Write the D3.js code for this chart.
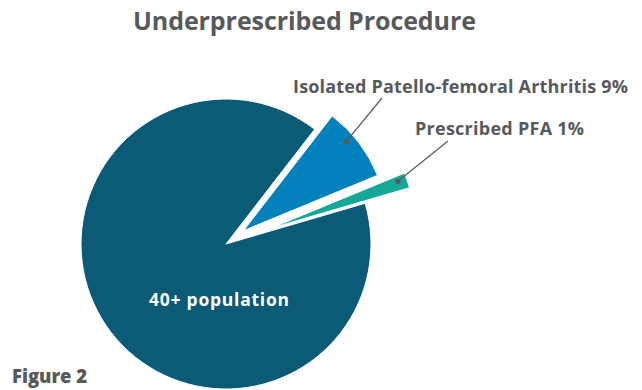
<!DOCTYPE html>
<html><head><meta charset="utf-8">
<script src="https://cdn.jsdelivr.net/npm/d3@7"></script>
<style>
html,body{margin:0;padding:0;background:#fff;}
svg{display:block;font-family:"Open Sans",Lato,sans-serif;}
</style></head>
<body>
<svg id="c" width="642" height="390"></svg>
<script>
// data
const categories = ["40+ population", "Isolated Patello-femoral Arthritis", "Prescribed PFA"];
const values = [90, 8.3, 1.7];
const labels = ["40+ population", "Isolated Patello-femoral Arthritis 9%", "Prescribed PFA 1%"];
const colors = ["#0b5a76", "#0281bd", "#15a898"];
const title = "Underprescribed Procedure";
const caption = "Figure 2";

const svg = d3.select("#c");
const cx = 226, cy = 244, R = 145;
const deg = Math.PI / 180;
const start = 73.7 * deg;
const explode = [0, 22, 47];
const dotFrac = [0.5, 0.38, 0.35];
const dotR = 136;
const textColor = "#58595b";

// fit text to a target left edge and width with letter-spacing
function fitText(sel, x0, width) {
  const node = sel.node();
  const n = node.getNumberOfChars();
  const w = node.getComputedTextLength();
  const ls = (width - w) / Math.max(1, n - 1);
  sel.attr("letter-spacing", ls.toFixed(2));
  sel.attr("x", x0).attr("text-anchor", "start");
}

const pie = d3.pie().sort(null).startAngle(start).endAngle(start + 2 * Math.PI);
const arcs = pie(values);
const arc = d3.arc().innerRadius(0).outerRadius(R);

const g = svg.append("g").attr("transform", `translate(${cx},${cy})`);
const slices = g.selectAll("g.slice").data(arcs).join("g").attr("class", "slice")
  .attr("transform", (d, i) => {
    const m = (d.startAngle + d.endAngle) / 2;
    return `translate(${explode[i] * Math.sin(m)},${-explode[i] * Math.cos(m)})`;
  });
slices.append("path").attr("d", arc).attr("fill", (d, i) => colors[i])
  .attr("stroke", "#fff").attr("stroke-width", 1).attr("stroke-linejoin", "round");

// label for big slice
const t0 = svg.append("text").attr("y", 306)
  .attr("fill", "#fff").attr("font-weight", 700).attr("font-size", 17.5).text(labels[0]);
fitText(t0, 149, 140);

// leader lines + dots
const labelPos = [null, {x: 293, y: 93, w: 335, lx: 382, ly: 98}, {x: 415, y: 135, w: 169, lx: 448, ly: 141}];
arcs.forEach((d, i) => {
  if (i === 0) return;
  const m = (d.startAngle + d.endAngle) / 2;
  const a = d.startAngle + dotFrac[i] * (d.endAngle - d.startAngle);
  const ox = cx + explode[i] * Math.sin(m), oy = cy - explode[i] * Math.cos(m);
  const px = ox + dotR * Math.sin(a), py = oy - dotR * Math.cos(a);
  const lp = labelPos[i];
  svg.append("line").attr("x1", px).attr("y1", py).attr("x2", lp.lx).attr("y2", lp.ly)
    .attr("stroke", textColor).attr("stroke-width", 1.2);
  svg.append("circle").attr("cx", px).attr("cy", py).attr("r", 2.6).attr("fill", textColor);
  const t = svg.append("text").attr("y", lp.y).attr("fill", textColor)
    .attr("font-weight", 700).attr("font-size", 18).text(labels[i]);
  fitText(t, lp.x, lp.w);
});

const tt = svg.append("text").attr("y", 30)
  .attr("fill", textColor).attr("font-weight", 700).attr("font-size", 25).text(title);
fitText(tt, 133, 343);
const tc = svg.append("text").attr("y", 383).attr("fill", textColor)
  .attr("font-weight", 800).attr("font-size", 18.5).text(caption);
fitText(tc, 12, 75);
</script>
</body></html>
